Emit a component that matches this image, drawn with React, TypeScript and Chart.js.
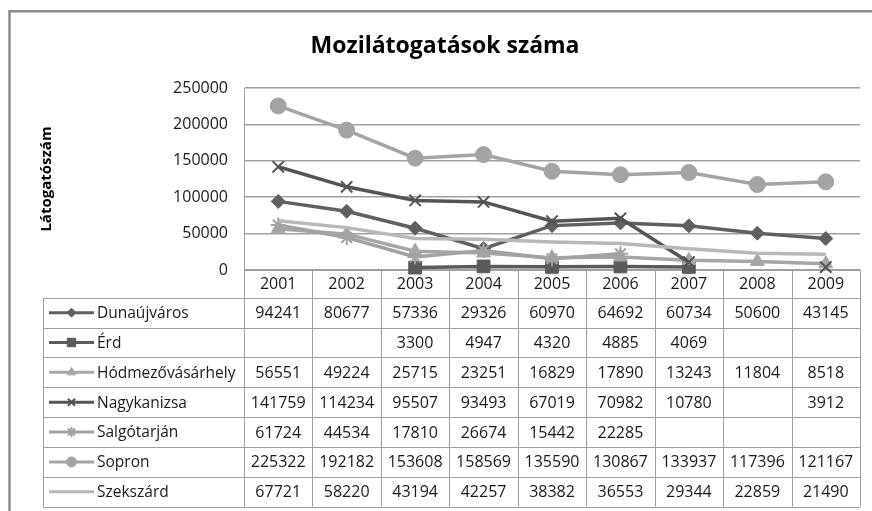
import React, { useEffect, useRef } from 'react';
import { Chart, registerables } from 'chart.js';
import { drawPoint } from 'chart.js/helpers';

Chart.register(...registerables);

// ---- data ----
const years = ['2001', '2002', '2003', '2004', '2005', '2006', '2007', '2008', '2009'];
const seriesNames = ['Dunaújváros', 'Érd', 'Hódmezővásárhely', 'Nagykanizsa', 'Salgótarján', 'Sopron', 'Szekszárd'];
const dunaujvaros = [94241, 80677, 57336, 29326, 60970, 64692, 60734, 50600, 43145];
const erd = [null, null, 3300, 4947, 4320, 4885, 4069, null, null];
const hodmezovasarhely = [56551, 49224, 25715, 23251, 16829, 17890, 13243, 11804, 8518];
const nagykanizsa = [141759, 114234, 95507, 93493, 67019, 70982, 10780, null, 3912];
const salgotarjan = [61724, 44534, 17810, 26674, 15442, 22285, null, null, null];
const sopron = [225322, 192182, 153608, 158569, 135590, 130867, 133937, 117396, 121167];
const szekszard = [67721, 58220, 43194, 42257, 38382, 36553, 29344, 22859, 21490];
const seriesValues = [dunaujvaros, erd, hodmezovasarhely, nagykanizsa, salgotarjan, sopron, szekszard];
const yMin = 0;
const yMax = 250000;
const yStep = 50000;
const chartTitle = 'Mozilátogatások száma';
const yTitle = 'Látogatószám';

// ---- styles ----
const FONT = "'Open Sans', 'Noto Sans', sans-serif";
const seriesStyles = [
  { color: '#606060', point: 'rectRot', radius: 7, bw: 1, keyRadius: 4.5 },
  { color: '#5a5a5a', point: 'rect', radius: 9, bw: 1, keyRadius: 6 },
  { color: '#a6a6a6', point: 'triangle', radius: 8, bw: 1, keyRadius: 5 },
  { color: '#545454', point: 'crossRot', radius: 8, bw: 2, keyRadius: 5 },
  { color: '#a2a2a2', point: 'star', radius: 7.5, bw: 2, keyRadius: 5 },
  { color: '#a4a4a4', point: 'circle', radius: 8, bw: 1, keyRadius: 5 },
  { color: '#b8b8b8', point: 'circle', radius: 0, bw: 0, keyRadius: 0 },
];

const HEADER_H = 27.7;
const ROW_H = 29.86;
const LEGEND_LEFT = 43;
const KEY_X0 = 49;
const KEY_X1 = 94;
const LABEL_X = 97;
const GRID_COLOR = '#a0a0a0';

const borderPlugin = {
  id: 'outerBorder',
  beforeDraw(chart: any) {
    const ctx = chart.ctx;
    ctx.save();
    ctx.fillStyle = '#ffffff';
    ctx.fillRect(0, 0, chart.width, chart.height);
    ctx.strokeStyle = '#8a8a8a';
    ctx.lineWidth = 2.5;
    ctx.strokeRect(9.5, 11.3, chart.width + 40, chart.height + 40);
    ctx.restore();
  },
};

const tablePlugin = {
  id: 'dataTable',
  beforeDatasetsDraw(chart: any) {
    const ctx = chart.ctx;
    const xs = chart.scales.x;
    const area = chart.chartArea;
    const n = years.length;
    const centers = years.map((_, i) => xs.getPixelForValue(i));
    const half = (centers[1] - centers[0]) / 2;
    const edges = [centers[0] - half, ...centers.map((c) => c + half)];
    const top = area.bottom;
    const rowsTop = top + HEADER_H;
    const bottom = rowsTop + ROW_H * seriesNames.length;
    ctx.save();
    ctx.strokeStyle = GRID_COLOR;
    ctx.lineWidth = 1;
    ctx.beginPath();
    ctx.moveTo(edges[0], Math.round(top) + 0.5);
    ctx.lineTo(edges[n], Math.round(top) + 0.5);
    for (let r = 0; r <= seriesNames.length; r++) {
      const y = Math.round(rowsTop + r * ROW_H) + 0.5;
      ctx.moveTo(LEGEND_LEFT, y);
      ctx.lineTo(edges[n], y);
    }
    for (let c = 0; c <= n; c++) {
      const x = Math.round(edges[c]) + 0.5;
      ctx.moveTo(x, top);
      ctx.lineTo(x, bottom);
    }
    ctx.moveTo(LEGEND_LEFT + 0.5, rowsTop);
    ctx.lineTo(LEGEND_LEFT + 0.5, bottom);
    ctx.stroke();

    ctx.fillStyle = '#1a1a1a';
    ctx.font = `16px ${FONT}`;
    ctx.textBaseline = 'middle';
    ctx.textAlign = 'center';
    years.forEach((yr, i) => ctx.fillText(yr, centers[i], top + HEADER_H / 2 + 1));
    seriesNames.forEach((name, r) => {
      const cy = rowsTop + r * ROW_H + ROW_H / 2 + 1;
      ctx.textAlign = 'center';
      ctx.fillStyle = '#1a1a1a';
      ctx.font = `16px ${FONT}`;
      seriesValues[r].forEach((v, i) => {
        if (v !== null) ctx.fillText(String(v), centers[i], cy);
      });
      ctx.textAlign = 'left';
      ctx.font = `15.5px ${FONT}`;
      ctx.fillText(name, LABEL_X, cy);
      const st = seriesStyles[r];
      const ky = cy - 1;
      ctx.strokeStyle = st.color;
      ctx.lineWidth = 3;
      ctx.beginPath();
      ctx.moveTo(KEY_X0, ky);
      ctx.lineTo(KEY_X1, ky);
      ctx.stroke();
      if (st.keyRadius > 0) {
        ctx.fillStyle = st.color;
        ctx.strokeStyle = st.color;
        ctx.lineWidth = st.bw;
        drawPoint(ctx, { pointStyle: st.point, radius: st.keyRadius, rotation: 0, borderWidth: st.bw }, (KEY_X0 + KEY_X1) / 2, ky);
      }
    });
    ctx.restore();
  },
};

export default function App() {
  const canvasRef = useRef<HTMLCanvasElement | null>(null);

  useEffect(() => {
    document.body.style.margin = '0';
    const canvas = canvasRef.current;
    if (!canvas) return;
    const datasets = seriesNames.map((name, i) => {
      const st = seriesStyles[i];
      return {
        label: name,
        data: seriesValues[i],
        borderColor: st.color,
        backgroundColor: st.color,
        borderWidth: 3.5,
        pointStyle: st.point,
        pointRadius: st.radius,
        pointBorderWidth: st.bw,
        pointBorderColor: st.color,
        pointBackgroundColor: st.color,
        tension: 0,
        spanGaps: false,
        clip: false,
        order: seriesNames.length - i,
      };
    });
    const chart = new Chart(canvas, {
      type: 'line',
      data: { labels: years, datasets: datasets as any },
      options: {
        responsive: false,
        animation: false,
        devicePixelRatio: 1,
        layout: { padding: { left: 30, right: 12, top: 0, bottom: 241 } },
        plugins: {
          legend: { display: false },
          tooltip: { enabled: false },
          title: {
            display: true,
            text: chartTitle,
            color: '#000000',
            font: { family: FONT, size: 23, weight: 'bold', lineHeight: 1.2 },
            padding: { top: 33, bottom: 27.4 },
          },
        },
        scales: {
          x: {
            type: 'category',
            offset: true,
            display: false,
          },
          y: {
            min: yMin,
            max: yMax,
            afterFit(scale: any) {
              scale.width = 214;
            },
            ticks: {
              stepSize: yStep,
              padding: 16,
              color: '#1a1a1a',
              font: { family: FONT, size: 16 },
              callback: (v: any) => String(v),
            },
            grid: {
              color: GRID_COLOR,
              lineWidth: 1.5,
              drawTicks: false,
            },
            border: { display: true, color: GRID_COLOR, width: 1 },
            title: {
              display: true,
              text: yTitle,
              color: '#000000',
              font: { family: FONT, size: 15, weight: 'bold', lineHeight: 1.2 },
              padding: { top: 8, bottom: 0 },
            },
          },
        },
      },
      plugins: [borderPlugin, tablePlugin],
    });
    return () => chart.destroy();
  }, []);

  return (
    <div style={{ width: 872, height: 511 }}>
      <canvas ref={canvasRef} width={872} height={511} style={{ display: 'block' }} />
    </div>
  );
}
